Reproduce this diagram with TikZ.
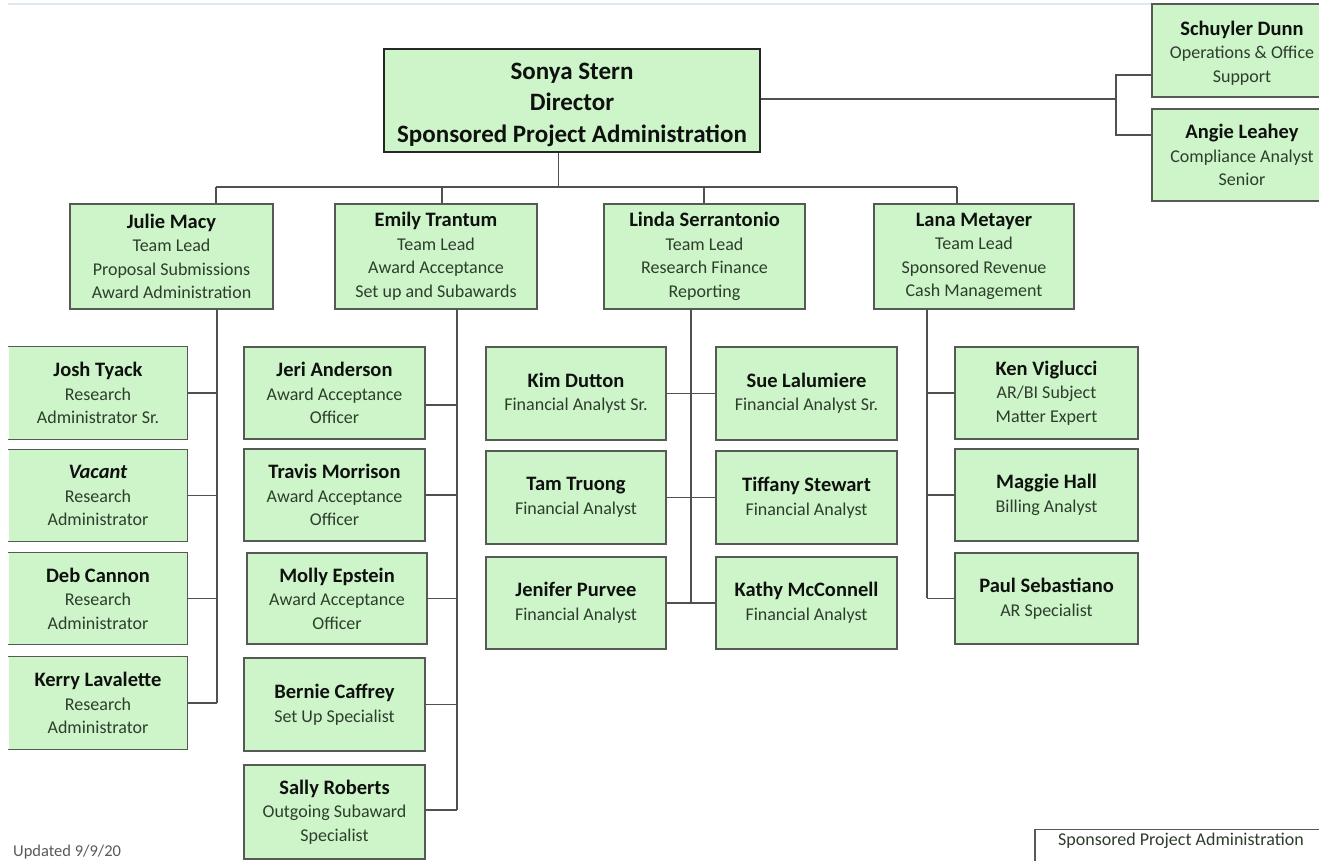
\documentclass[tikz,border=0pt]{standalone}
\usepackage{fontspec}
\setmainfont{Carlito}
\definecolor{boxfill}{RGB}{206,245,201}
\definecolor{boxline}{RGB}{85,90,85}
\definecolor{connc}{RGB}{80,80,80}
\definecolor{txt}{RGB}{45,62,45}
\definecolor{namec}{RGB}{15,17,15}
\definecolor{topl}{RGB}{222,232,242}
\newcommand{\nm}[1]{{\fontsize{20.5}{23.5}\selectfont\bfseries\color{namec}#1}}
% #1 options, #2 name, #3 x1, #4 y1, #5 x2, #6 y2, #7 text
\newcommand{\pbox}[7][]{%
  \node[box,#1,minimum width={#5-#3}, minimum height={#6-#4}] (#2) at ({(#3+#5)/2},{(#4+#6)/2}) {#7};}
\begin{document}
\begin{tikzpicture}[x=1pt,y=-1pt,
  box/.style={draw=boxline, line width=1.2pt, fill=boxfill, inner sep=0pt, align=center, text=txt, font=\fontsize{18}{23.5}\selectfont},
  openbox/.style={draw=none},
  boxl/.style={draw=boxline, line width=1.2pt},
  conn/.style={draw=connc, line width=1.3pt},
  toplinestyle/.style={draw=topl, line width=2.5pt}]
\fill[white] (0,0) rectangle (1319,861);
\useasboundingbox (0,0) rectangle (1319,861);
\draw[toplinestyle] (8,4) -- (1152,4);

% director
\pbox[line width=2.4pt, draw=black!85, font=\fontsize{25}{31.5}\selectfont\bfseries, text=namec]{dir}{384}{49}{760}{152}{\rule{0pt}{24.5pt}Sonya Stern\\Director\\Sponsored Project Administration}

% staff to the right
\pbox{sd}{1152}{4}{1332}{97}{\rule{0pt}{19.5pt}\nm{Schuyler Dunn}\\Operations \& Office\\Support}
\pbox{al}{1152}{109}{1332}{201}{\nm{Angie Leahey}\\Compliance Analyst\\Senior}

% team leads
\pbox{julie}{70}{204}{273}{309}{\nm{Julie Macy}\\Team Lead\\Proposal Submissions\\Award Administration}
\pbox{emily}{335}{204}{537}{309}{\nm{Emily Trantum}\\Team Lead\\Award Acceptance\\Set up and Subawards}
\pbox{linda}{604}{204}{805}{309}{\nm{Linda Serrantonio}\\Team Lead\\Research Finance\\Reporting}
\pbox{lana}{874}{204}{1074}{309}{\nm{Lana Metayer}\\Team Lead\\Sponsored Revenue\\Cash Management}

% Julie's team (left edges run off the picture)
\pbox[openbox]{josh}{9}{347}{187}{439}{\nm{Josh Tyack}\\Research\\Administrator Sr.}
\pbox[openbox]{vac}{9}{450}{187}{541}{\nm{\textit{Vacant}}\\Research\\Administrator}
\pbox[openbox]{deb}{9}{553}{187}{644}{\nm{Deb Cannon}\\Research\\Administrator}
\pbox[openbox]{kerry}{9}{657}{187}{749}{\nm{Kerry Lavalette}\\Research\\Administrator}
\foreach \n in {josh,vac,deb,kerry}
  \draw[boxl] (\n.north west) -- (\n.north east) -- (\n.south east) -- (\n.south west);

% Emily's team
\pbox{jeri}{244}{347}{425}{439}{\nm{Jeri Anderson}\\Award Acceptance\\Officer}
\pbox{travis}{244}{449}{425}{541}{\nm{Travis Morrison}\\Award Acceptance\\Officer}
\pbox{molly}{247}{553}{427}{644}{\nm{Molly Epstein}\\Award Acceptance\\Officer}
\pbox{bernie}{244}{658}{425}{751}{\nm{Bernie Caffrey}\\Set Up Specialist}
\pbox{sally}{244}{765}{425}{859}{\nm{Sally Roberts}\\Outgoing Subaward\\Specialist}

% Linda's team
\pbox{kim}{486}{347}{666}{440}{\nm{Kim Dutton}\\Financial Analyst Sr.}
\pbox{sue}{716}{347}{897}{440}{\nm{Sue Lalumiere}\\Financial Analyst Sr.}
\pbox{tam}{486}{451}{666}{544}{\nm{Tam Truong}\\Financial Analyst}
\pbox{tiff}{716}{451}{897}{544}{\nm{Tiffany Stewart}\\Financial Analyst}
\pbox{jen}{486}{557}{666}{649}{\nm{Jenifer Purvee}\\Financial Analyst}
\pbox{kathy}{716}{557}{897}{649}{\nm{Kathy McConnell}\\Financial Analyst}

% Lana's team
\pbox{ken}{955}{347}{1138}{439}{\nm{Ken Viglucci}\\AR/BI Subject\\Matter Expert}
\pbox{maggie}{955}{449}{1138}{541}{\nm{Maggie Hall}\\Billing Analyst}
\pbox{paul}{955}{553}{1138}{644}{\nm{Paul Sebastiano}\\AR Specialist}

% footer
\node[draw=boxline, line width=1.2pt, fill=white, anchor=north, minimum width=292pt, inner sep=0pt, text height=16pt, text depth=25pt, font=\fontsize{18}{22}\selectfont, text=txt] (foot) at (1181,829) {Sponsored Project Administration};
\node[anchor=west, inner sep=0pt, font=\fontsize{16.5}{20}\selectfont, text=black!65] (upd) at (13,852) {Updated 9/9/20};

% connectors: director to team leads
\coordinate (dv) at (558.5,187);
\coordinate (b1) at (216,187);
\coordinate (b2) at (442,187);
\coordinate (b3) at (704,187);
\coordinate (b4) at (957,187);
\draw[conn] (dv |- dir.south) -- (dv);
\draw[conn] (b1) -- (b4);
\draw[conn] (b1) -- (b1 |- julie.north);
\draw[conn] (b2) -- (b2 |- emily.north);
\draw[conn] (b3) -- (b3 |- linda.north);
\draw[conn] (b4) -- (b4 |- lana.north);

% director to right staff
\coordinate (rv) at (1116,99);
\coordinate (sj) at (1116,75);
\coordinate (aj) at (1116,135);
\draw[conn] (dir.east |- rv) -- (rv);
\draw[conn] (sj -| sd.west) -- (sj) -- (aj) -- (aj -| al.west);

% Julie
\coordinate (jv) at (217,703);
\draw[conn] (jv |- julie.south) -- (jv);
\foreach \n in {josh,vac,deb,kerry}
  \draw[conn] (\n.east) -- (\n.east -| jv);

% Emily
\coordinate (ev) at (457,810);
\coordinate (jj) at (457,405);
\draw[conn] (ev |- emily.south) -- (ev);
\draw[conn] (jj -| jeri.east) -- (jj);
\foreach \n in {travis,molly,bernie}
  \draw[conn] (\n.east) -- (\n.east -| ev);
\draw[conn] (ev -| sally.east) -- (ev);

% Linda
\coordinate (lv) at (691,603);
\draw[conn] (lv |- linda.south) -- (lv);
\draw[conn] (kim.east) -- (sue.west);
\draw[conn] (tam.east) -- (tiff.west);
\draw[conn] (jen.east) -- (kathy.west);

% Lana
\coordinate (nv) at (927,598);
\draw[conn] (nv |- lana.south) -- (nv);
\foreach \n in {ken,maggie,paul}
  \draw[conn] (\n.west) -- (\n.west -| nv);
\end{tikzpicture}
\end{document}
